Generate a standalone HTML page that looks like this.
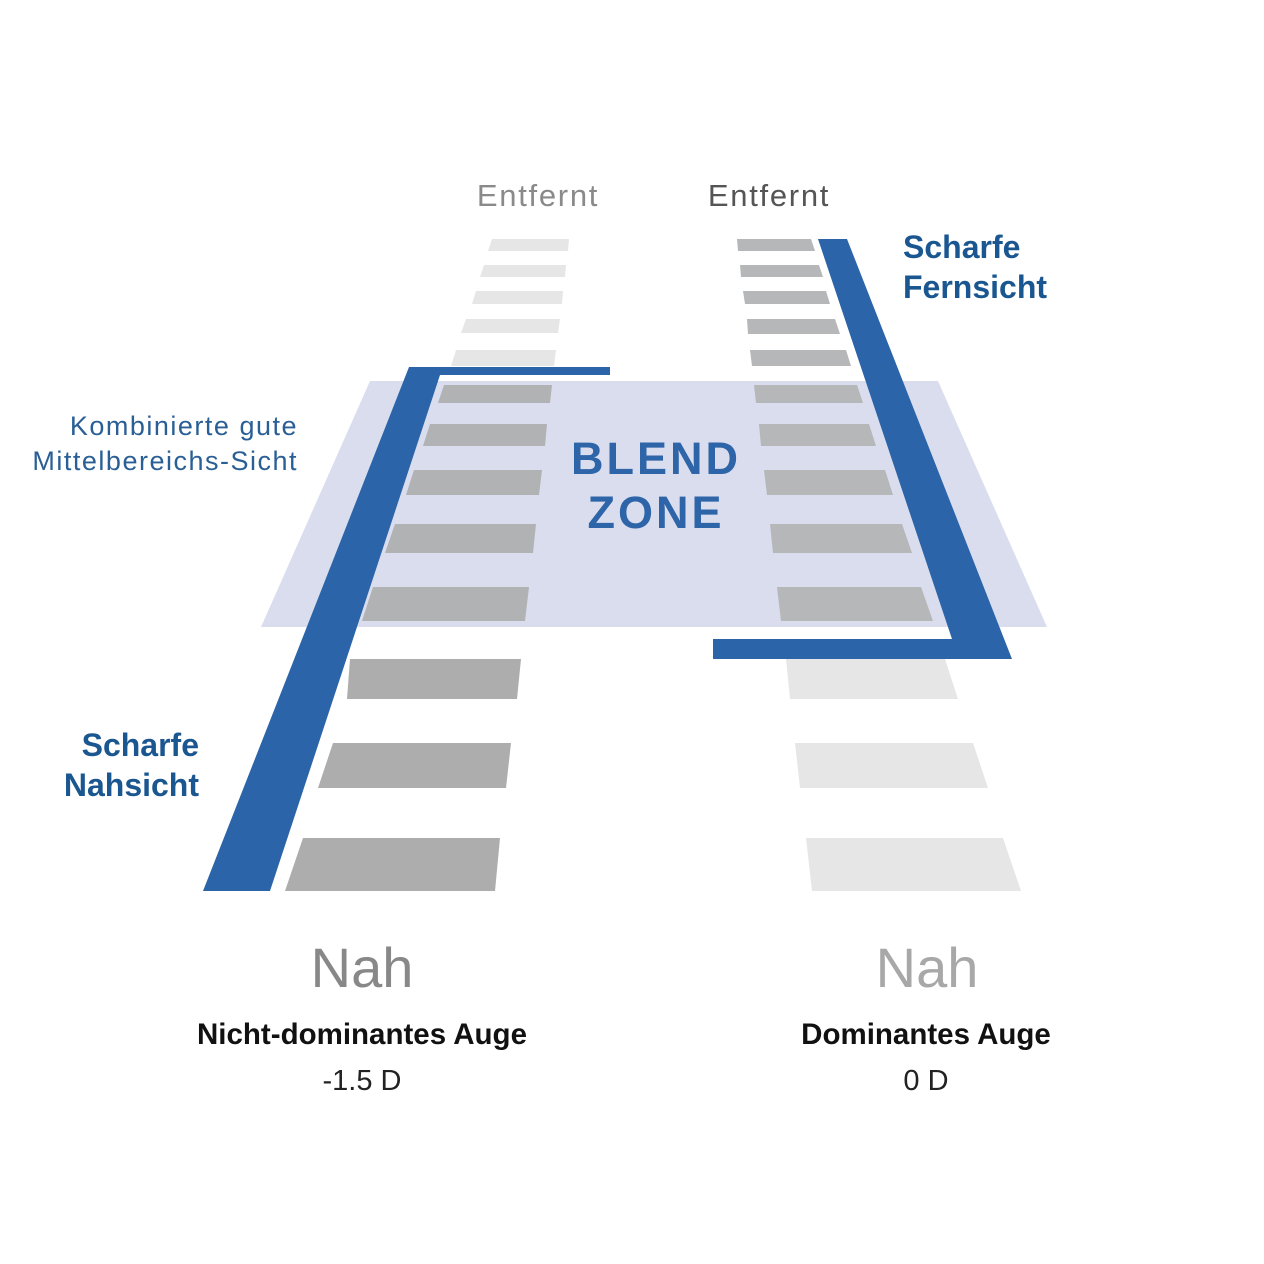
<!DOCTYPE html>
<html><head><meta charset="utf-8"><style>
html,body{margin:0;padding:0;background:#fff}
svg{display:block}
text{font-family:"Liberation Sans",sans-serif}
</style></head><body>
<svg width="1264" height="1264" viewBox="0 0 1264 1264" xmlns="http://www.w3.org/2000/svg">
<rect width="1264" height="1264" fill="#fff"/>
<polygon points="370,381 938,381 1047,627 261,627" fill="#d9ddee"/>
<g fill="#e6e6e6">
<polygon points="492,239 569,239 568,251 488,251"/>
<polygon points="484,265 566,265 565,277 480,277"/>
<polygon points="476,291 563,291 562,304 472,304"/>
<polygon points="466,319 560,319 558,333 461,333"/>
<polygon points="456,350 556,350 554,366 451,366"/>
</g>
<g fill="#b1b2b4">
<polygon points="444,385 552,385 550,403 438,403"/>
<polygon points="430,424 547,424 545,446 423,446"/>
<polygon points="414,470 542,470 539,495 406,495"/>
<polygon points="395,524 536,524 533,553 385,553"/>
<polygon points="373,587 529,587 525,621 362,621"/>
</g>
<g fill="#adadae">
<polygon points="350,659 521,659 517,699 347,699"/>
<polygon points="333,743 511,743 506,788 318,788"/>
<polygon points="303,838 500,838 495,891 285,891"/>
</g>
<g fill="#b6b7b8">
<polygon points="737,239 811,239 815,251 738,251"/>
<polygon points="740,265 819,265 823,277 741,277"/>
<polygon points="743,291 826,291 830,304 745,304"/>
<polygon points="747,319 835,319 840,334 748,334"/>
<polygon points="750,350 846,350 851,366 752,366"/>
<polygon points="754,385 857,385 863,403 756,403"/>
<polygon points="759,424 869,424 876,446 761,446"/>
<polygon points="764,470 885,470 893,495 767,495"/>
<polygon points="770,524 902,524 912,553 773,553"/>
<polygon points="777,587 921,587 933,621 781,621"/>
</g>
<g fill="#e6e6e6">
<polygon points="786,659 945,659 958,699 790,699"/>
<polygon points="795,743 973,743 988,788 800,788"/>
<polygon points="806,838 1003,838 1021,891 812,891"/>
</g>
<polygon points="409,367 610,367 610,375 440,375 270,891 203,891" fill="#2b64a8"/>
<polygon points="818,239 847,239 1012,659 713,659 713,639 952,639" fill="#2b64a8"/>
<text x="538" y="206" font-size="31" fill="#8a8a8a" text-anchor="middle" letter-spacing="1.7">Entfernt</text>
<text x="769" y="206" font-size="31" fill="#555" text-anchor="middle" letter-spacing="1.7">Entfernt</text>
<text x="903" y="258" font-size="32" font-weight="bold" fill="#1a5690">Scharfe</text>
<text x="903" y="298" font-size="32" font-weight="bold" fill="#1a5690">Fernsicht</text>
<text x="298" y="435" font-size="27" fill="#2a5f96" text-anchor="end" letter-spacing="1.5">Kombinierte gute</text>
<text x="298" y="470" font-size="27" fill="#2a5f96" text-anchor="end" letter-spacing="1.5">Mittelbereichs-Sicht</text>
<text x="656" y="474" font-size="45" font-weight="bold" fill="#2e64a8" text-anchor="middle" letter-spacing="3">BLEND</text>
<text x="656" y="528" font-size="45" font-weight="bold" fill="#2e64a8" text-anchor="middle" letter-spacing="3">ZONE</text>
<text x="199" y="756" font-size="32" font-weight="bold" fill="#1a5690" text-anchor="end">Scharfe</text>
<text x="199" y="796" font-size="32" font-weight="bold" fill="#1a5690" text-anchor="end">Nahsicht</text>
<text x="362" y="987" font-size="56" fill="#888" text-anchor="middle">Nah</text>
<text x="927" y="987" font-size="56" fill="#a8a8a8" text-anchor="middle">Nah</text>
<text x="362" y="1044" font-size="29.5" font-weight="bold" fill="#111" text-anchor="middle">Nicht-dominantes Auge</text>
<text x="362" y="1090" font-size="29" fill="#222" text-anchor="middle">-1.5 D</text>
<text x="926" y="1044" font-size="29.5" font-weight="bold" fill="#111" text-anchor="middle">Dominantes Auge</text>
<text x="926" y="1090" font-size="29" fill="#222" text-anchor="middle">0 D</text>
</svg>
</body></html>
